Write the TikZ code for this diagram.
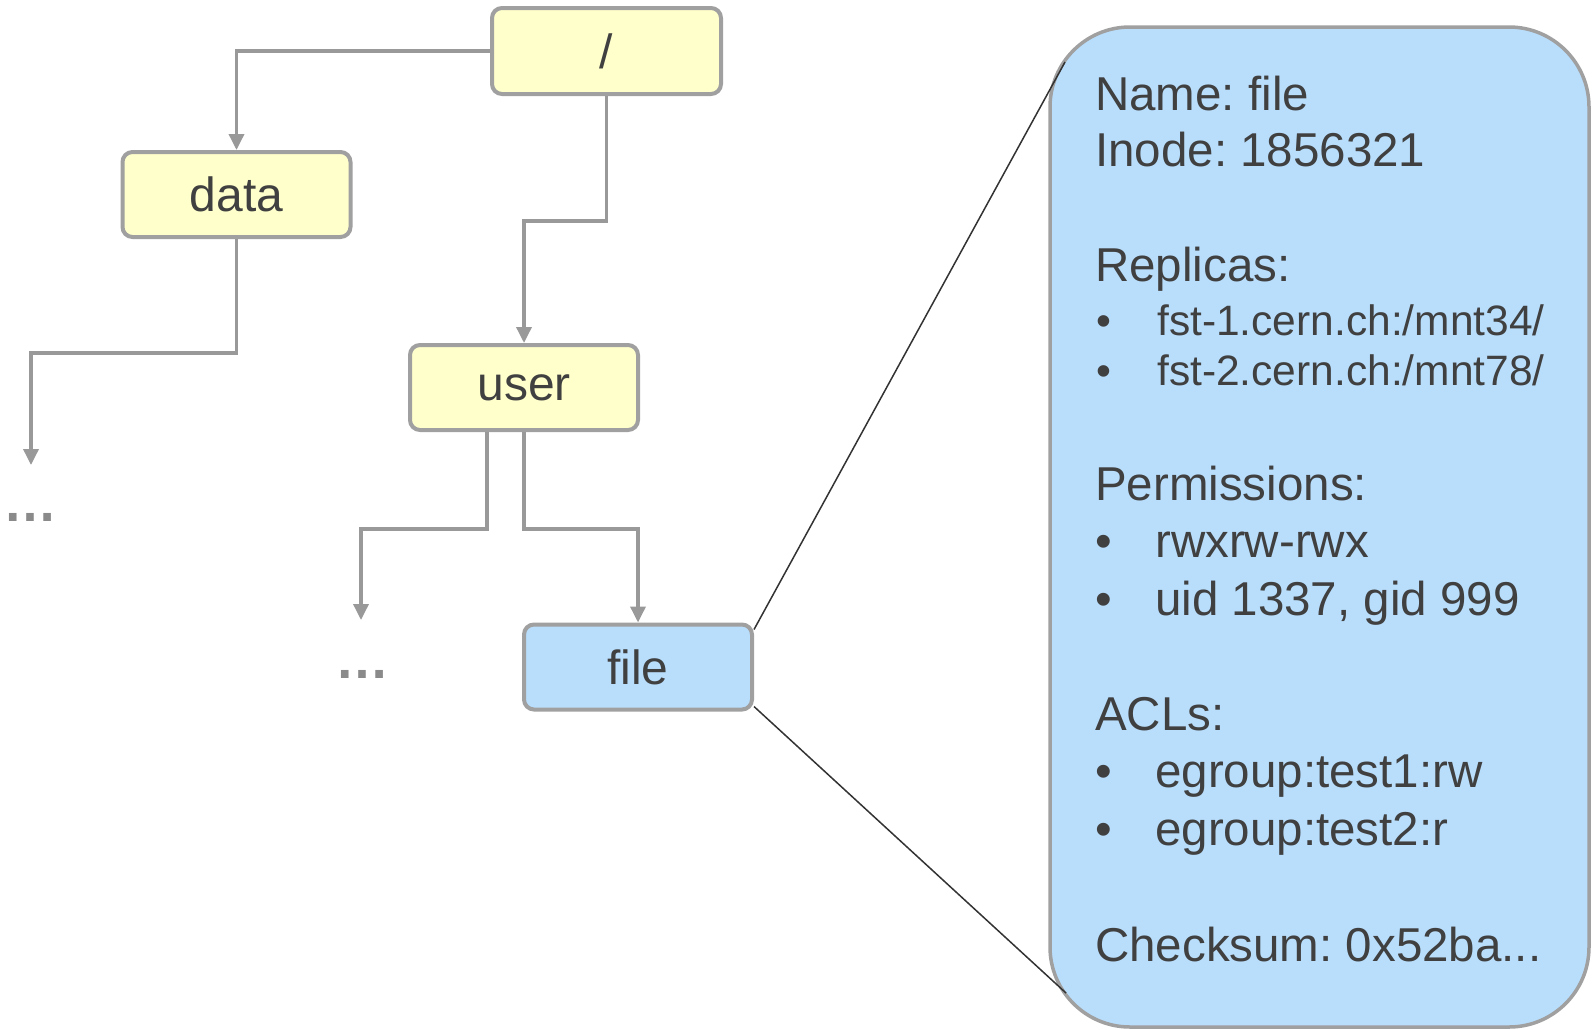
\documentclass[tikz,border=0pt]{standalone}
\usepackage{fontspec}
\setmainfont{Liberation Sans}
\usetikzlibrary{arrows.meta}
\definecolor{txtcol}{HTML}{404040}
\definecolor{yelfill}{HTML}{FFFFCC}
\definecolor{blufill}{HTML}{B9DEFC}
\definecolor{bordcol}{HTML}{A0A0A0}
\definecolor{lncol}{HTML}{999999}
\definecolor{dotcol}{HTML}{8A8A8A}
\definecolor{thincol}{HTML}{333333}
\frenchspacing
\begin{document}
\begin{tikzpicture}[x=1pt,y=-1pt,
  box/.style={draw=bordcol, line width=4pt, rounded corners=10pt, inner sep=0pt,
    minimum width=228pt, minimum height=85pt, text=txtcol,
    font=\fontsize{48}{56}\selectfont},
  ybox/.style={box, fill=yelfill},
  bbox/.style={box, fill=blufill},
  link/.style={draw=lncol, line width=3.5pt, -{Triangle[length=16pt,width=15pt]}},
  zoomline/.style={draw=thincol, line width=1.5pt},
  hdr/.style={anchor=base west, inner sep=0pt, text=txtcol, font=\fontsize{47.5}{55}\selectfont},
  itm/.style={anchor=base west, inner sep=0pt, text=txtcol, font=\fontsize{#1}{#1}\selectfont},
  bul/.style={anchor=base, inner sep=0pt, text=txtcol, font=\fontsize{#1}{#1}\selectfont},
  more/.style={anchor=base, inner sep=0pt, text=dotcol, font=\fontsize{54}{60}\selectfont\bfseries}
]
\useasboundingbox (0,0) rectangle (1592,1029);

% tree nodes
\node[ybox, minimum width=229pt, minimum height=86pt] (root) at (606.5,51) {/};
\node[ybox] (data) at (236.5,194.5) {data};
\node[ybox] (user) at (524,387.5) {user};
\node[bbox] (file) at (638,667) {file};

\coordinate (d1end) at (31,465);
\coordinate (d2end) at (361,620);
\node[more] (dots1) at (30.5,521) {…};
\node[more] (dots2) at (362,678) {…};

% connectors
\draw[link] (root.west) -| (data.north);
\draw[link] (root.south) -- ++(0,125) -| (user.north);
\draw[link] (data.south) -- ++(0,114) -| (d1end);
\draw[link] ([xshift=-37pt]user.south) -- ++(0,97) -| (d2end);
\draw[link] (user.south) -- ++(0,97) -| (file.north);

% info box
\node[draw=bordcol, fill=blufill, line width=3.5pt, rounded corners=80pt, inner sep=0pt,
  minimum width=539pt, minimum height=1000pt] (info) at (1319.5,527) {};

% zoom lines
\coordinate (z1) at (1065,62);
\coordinate (z2) at (1066,993);
\draw[zoomline] ([yshift=-7pt]file.north east) -- (z1);
\draw[zoomline] ([yshift=5pt]file.south east) -- (z2);

\node[hdr] (t1) at (1095,110) {Name: file};
\node[hdr] (t2) at (1095,166.7) {Inode: 1856321};
\node[hdr] (t3) at (1095,281.7) {Replicas:};
\node[bul=42.5] (b1) at (1103.5,335) {•};
\node[itm=42.5] (t4) at (1157,335) {fst-1.cern.ch:/mnt34/};
\node[bul=42.5] (b2) at (1103.5,385) {•};
\node[itm=42.5] (t5) at (1157,385) {fst-2.cern.ch:/mnt78/};
\node[hdr] (t6) at (1095,500) {Permissions:};
\node[bul=47.5] (b3) at (1103.5,557) {•};
\node[itm=47.5] (t7) at (1155,557) {rwxrw-rwx};
\node[bul=47.5] (b4) at (1103.5,615) {•};
\node[itm=47.5] (t8) at (1155,615) {uid 1337, gid 999};
\node[hdr] (t9) at (1095,730) {ACLs:};
\node[bul=47.5] (b5) at (1103.5,787) {•};
\node[itm=47.5] (t10) at (1155,787) {egroup:test1:rw};
\node[bul=47.5] (b6) at (1103.5,845) {•};
\node[itm=47.5] (t11) at (1155,845) {egroup:test2:r};
\node[hdr] (t12) at (1095,961.7) {Checksum: 0x52ba...};
\end{tikzpicture}
\end{document}
